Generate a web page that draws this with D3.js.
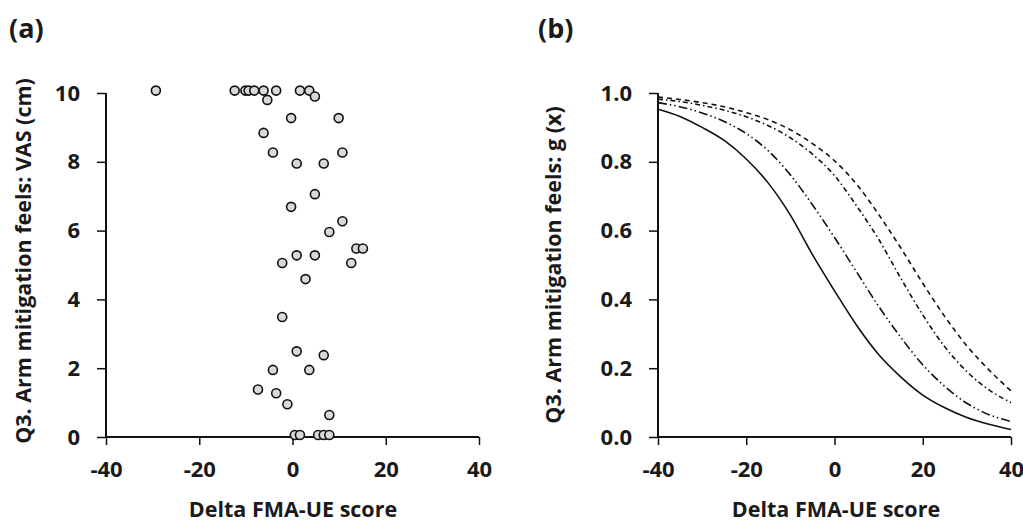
<!DOCTYPE html>
<html>
<head>
<meta charset="utf-8">
<script src="https://cdn.jsdelivr.net/npm/d3@7"></script>
<style>
  body { margin: 0; background: #fff; }
  svg text { font-family: "Open Sans", Lato, sans-serif; font-weight: 700; fill: #1a1a1a; }
</style>
</head>
<body>
<div id="vis"></div>
<script>
// panel (a) scatter: delta FMA-UE score vs VAS (cm)
const deltaFma = [-29.3, -12.4, -10.1, -9.4, -8.2, -6.2, -3.5, 1.6, 3.6, 4.8, -5.4, -0.3, 9.9,
  -6.2, -4.2, 10.7, 0.9, 6.7, 4.8, -0.3, 10.7, 7.9, 13.7, 15.1, 0.9, 4.8, -2.2, 12.6,
  2.8, -2.2, 0.9, 6.7, -4.2, 3.6, -7.4, -3.5, -1.1, 7.9, 0.5, 1.6, 5.5, 6.7, 7.9];
const vasScore = [10.07, 10.07, 10.07, 10.07, 10.07, 10.07, 10.07, 10.07, 10.07, 9.9, 9.8, 9.27, 9.27,
  8.84, 8.27, 8.27, 7.95, 7.95, 7.06, 6.69, 6.27, 5.96, 5.48, 5.48, 5.28, 5.28, 5.06, 5.06,
  4.59, 3.49, 2.49, 2.38, 1.95, 1.95, 1.38, 1.27, 0.95, 0.64, 0.06, 0.06, 0.06, 0.06, 0.06];

// panel (b) curves g(x), read at 5-point steps
const curveX = [-40, -35, -30, -25, -20, -15, -10, -5, 0, 5, 10, 15, 20, 25, 30, 35, 40];
const gSolid = [0.953, 0.932, 0.9, 0.862, 0.808, 0.738, 0.645, 0.53, 0.425, 0.325, 0.24, 0.175, 0.122, 0.085, 0.057, 0.037, 0.022];
const gDashDotDot = [0.972, 0.96, 0.942, 0.917, 0.882, 0.832, 0.762, 0.675, 0.58, 0.48, 0.38, 0.29, 0.21, 0.147, 0.098, 0.065, 0.045];
const gDashDot = [0.982, 0.975, 0.964, 0.95, 0.931, 0.905, 0.87, 0.822, 0.76, 0.672, 0.575, 0.462, 0.355, 0.262, 0.19, 0.137, 0.10];
const gDashed = [0.988, 0.981, 0.972, 0.96, 0.943, 0.922, 0.893, 0.853, 0.803, 0.735, 0.647, 0.55, 0.447, 0.35, 0.265, 0.195, 0.134];

const xTicks = [-40, -20, 0, 20, 40];
const vasTicks = [0, 2, 4, 6, 8, 10];
const gTicks = [0, 0.2, 0.4, 0.6, 0.8, 1.0];

const width = 1023;
const height = 528;

const svg = d3.select('#vis')
  .append('svg')
  .attr('width', width)
  .attr('height', height);

// draws one axis pair with Excel-like ticks
function drawAxes(g, x, y, yTicks, yFmt) {
  let xAxis = g.append('g')
    .attr('transform', 'translate(0,' + y.range()[0] + ')')
    .call(d3.axisBottom(x).tickValues(xTicks).tickSize(8).tickPadding(16).tickFormat(d => String(d)));
  let yAxis = g.append('g')
    .attr('transform', 'translate(' + x.range()[0] + ',0)')
    .call(d3.axisLeft(y).tickValues(yTicks).tickSize(9).tickPadding(17).tickFormat(yFmt));

  [xAxis, yAxis].forEach(a => {
    a.select('.domain').attr('stroke', '#111').attr('stroke-width', 2);
    a.selectAll('.tick line').attr('stroke', '#111').attr('stroke-width', 1.5);
    a.selectAll('.tick text')
      .style('font-size', '22px')
      .attr('fill', '#1a1a1a');
  });
  // no outer tick caps
  xAxis.select('.domain').attr('d', 'M' + x.range()[0] + ',0H' + x.range()[1]);
  yAxis.select('.domain').attr('d', 'M0,' + y.range()[0] + 'V' + y.range()[1]);
  xAxis.selectAll('.tick text').attr('dy', '0.71em');
}

// ---------- panel (a) ----------
const xA = d3.scaleLinear().domain([-40, 40]).range([106, 479]);
const yA = d3.scaleLinear().domain([0, 10]).range([437, 93]);
const gA = svg.append('g');

drawAxes(gA, xA, yA, vasTicks, d => String(d));

gA.selectAll('.dot')
  .data(deltaFma.map((d, i) => ({ x: d, y: vasScore[i] })))
  .enter().append('circle')
  .attr('class', 'dot')
  .attr('cx', d => xA(d.x))
  .attr('cy', d => yA(d.y))
  .attr('r', 4.5)
  .attr('fill', '#d9d9d9')
  .attr('stroke', '#111')
  .attr('stroke-width', 1.6);

gA.append('text')
  .attr('x', 9).attr('y', 38)
  .style('font-size', '27px')
  .text('(a)');

gA.append('text')
  .attr('x', 293).attr('y', 517)
  .attr('text-anchor', 'middle')
  .style('font-size', '21.5px')
  .text('Delta FMA-UE score');

gA.append('text')
  .attr('transform', 'translate(31,261) rotate(-90)')
  .attr('text-anchor', 'middle')
  .style('font-size', '21.5px')
  .text('Q3. Arm mitigation feels: VAS (cm)');

// ---------- panel (b) ----------
const xB = d3.scaleLinear().domain([-40, 40]).range([658, 1011]);
const yB = d3.scaleLinear().domain([0, 1]).range([437, 93]);
const gB = svg.append('g');

drawAxes(gB, xB, yB, gTicks, d3.format('.1f'));

const line = d3.line()
  .x(d => xB(d[0]))
  .y(d => yB(d[1]))
  .curve(d3.curveMonotoneX);

const curves = [
  { values: gSolid, dash: null },
  { values: gDashDotDot, dash: '9,3,1.5,3,1.5,3' },
  { values: gDashDot, dash: '5,3,1.5,3' },
  { values: gDashed, dash: '5,4' }
];

gB.selectAll('.curve')
  .data(curves)
  .enter().append('path')
  .attr('class', 'curve')
  .attr('d', c => line(curveX.map((x, i) => [x, c.values[i]])))
  .attr('fill', 'none')
  .attr('stroke', '#111')
  .attr('stroke-width', 1.6)
  .attr('stroke-dasharray', c => c.dash);

gB.append('text')
  .attr('x', 538).attr('y', 38)
  .style('font-size', '27px')
  .text('(b)');

gB.append('text')
  .attr('x', 836).attr('y', 517)
  .attr('text-anchor', 'middle')
  .style('font-size', '21.5px')
  .text('Delta FMA-UE score');

gB.append('text')
  .attr('transform', 'translate(561,265) rotate(-90)')
  .attr('text-anchor', 'middle')
  .style('font-size', '21.5px')
  .text('Q3. Arm mitigation feels: g (x)');
</script>
</body>
</html>
